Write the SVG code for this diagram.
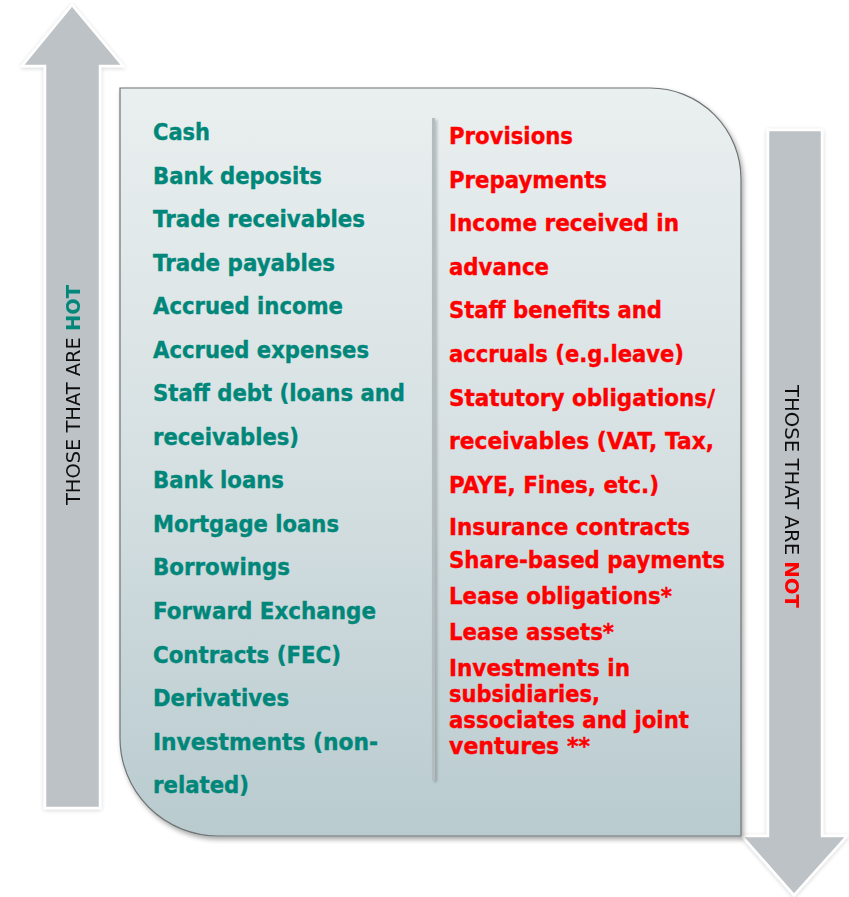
<svg xmlns="http://www.w3.org/2000/svg" width="849" height="897" viewBox="0 0 849 897">
  <defs>
    <linearGradient id="panelFill" x1="0" y1="0" x2="0" y2="1">
      <stop offset="0" stop-color="#eaefef"/>
      <stop offset="0.5" stop-color="#d6e0e2"/>
      <stop offset="1" stop-color="#b9cbcf"/>
    </linearGradient>
    <filter id="softShadow" x="-10%" y="-10%" width="120%" height="120%">
      <feGaussianBlur in="SourceAlpha" stdDeviation="2.5"/>
      <feOffset dx="2" dy="3" result="blur"/>
      <feComponentTransfer><feFuncA type="linear" slope="0.35"/></feComponentTransfer>
      <feMerge><feMergeNode/><feMergeNode in="SourceGraphic"/></feMerge>
    </filter>
    <filter id="ruleShadow" x="-300%" y="-2%" width="700%" height="104%">
      <feGaussianBlur in="SourceAlpha" stdDeviation="1.5"/>
      <feOffset dx="2" dy="2"/>
      <feComponentTransfer><feFuncA type="linear" slope="0.25"/></feComponentTransfer>
      <feMerge><feMergeNode/><feMergeNode in="SourceGraphic"/></feMerge>
    </filter>
    <filter id="arrowShadow" x="-20%" y="-5%" width="140%" height="110%">
      <feGaussianBlur in="SourceAlpha" stdDeviation="2"/>
      <feOffset dx="0" dy="1"/>
      <feComponentTransfer><feFuncA type="linear" slope="0.18"/></feComponentTransfer>
      <feMerge><feMergeNode/><feMergeNode in="SourceGraphic"/></feMerge>
    </filter>
  </defs>
  <style>
    .arrow { fill: #bcc2c5; stroke: #ffffff; stroke-width: 2.5; stroke-linejoin: miter; }
    .hot { font-family: "DejaVu Sans", "Liberation Sans", sans-serif; font-weight: bold; font-size: 23px; fill: #00877a; stroke: #00877a; stroke-width: 0.4; }
    .not { font-family: "DejaVu Sans", "Liberation Sans", sans-serif; font-weight: bold; font-size: 23px; fill: #ff0000; stroke: #ff0000; stroke-width: 0.4; }
    .side { font-family: "DejaVu Sans", "Liberation Sans", sans-serif; font-size: 20px; fill: #111111; }
  </style>

  <!-- upward arrow on the left -->
  <g id="arrow-hot" filter="url(#arrowShadow)">
    <path class="arrow" d="M72,5 L123,66 L100,66 L100,808 L45,808 L45,66 L22,66 Z"/>
    <text class="side" transform="translate(80,505) rotate(-90)" textLength="220" lengthAdjust="spacingAndGlyphs">THOSE THAT ARE <tspan font-weight="bold" fill="#00877a">HOT</tspan></text>
  </g>

  <!-- downward arrow on the right -->
  <g id="arrow-not" filter="url(#arrowShadow)">
    <path class="arrow" d="M768,130 L822,130 L822,836 L847,836 L794,895 L742,836 L768,836 Z"/>
    <text class="side" transform="translate(785,385) rotate(90)" textLength="223" lengthAdjust="spacingAndGlyphs">THOSE THAT ARE <tspan font-weight="bold" fill="#ff0000">NOT</tspan></text>
  </g>

  <!-- central panel with its column rule -->
  <g id="panel">
    <path d="M120,88 L650,88 A91,91 0 0 1 741,179 L741,836 L218,836 A98,98 0 0 1 120,738 Z" fill="url(#panelFill)" stroke="#6f7475" stroke-width="1.2" filter="url(#softShadow)"/>
    <rect x="432" y="118" width="3" height="662" fill="#b3bcbe" filter="url(#ruleShadow)"/>
  </g>

  <!-- items that are hot -->
  <g id="list-hot">
    <text class="hot" x="153" y="140" textLength="57" lengthAdjust="spacingAndGlyphs">Cash</text>
    <text class="hot" x="153" y="184" textLength="169" lengthAdjust="spacingAndGlyphs">Bank deposits</text>
    <text class="hot" x="153" y="227" textLength="212" lengthAdjust="spacingAndGlyphs">Trade receivables</text>
    <text class="hot" x="153" y="271" textLength="182" lengthAdjust="spacingAndGlyphs">Trade payables</text>
    <text class="hot" x="153" y="314" textLength="190" lengthAdjust="spacingAndGlyphs">Accrued income</text>
    <text class="hot" x="153" y="358" textLength="216" lengthAdjust="spacingAndGlyphs">Accrued expenses</text>
    <text class="hot" x="153" y="401" textLength="252" lengthAdjust="spacingAndGlyphs">Staff debt (loans and</text>
    <text class="hot" x="153" y="445" textLength="146" lengthAdjust="spacingAndGlyphs">receivables)</text>
    <text class="hot" x="153" y="488" textLength="131" lengthAdjust="spacingAndGlyphs">Bank loans</text>
    <text class="hot" x="153" y="532" textLength="186" lengthAdjust="spacingAndGlyphs">Mortgage loans</text>
    <text class="hot" x="153" y="575" textLength="137" lengthAdjust="spacingAndGlyphs">Borrowings</text>
    <text class="hot" x="153" y="619" textLength="223" lengthAdjust="spacingAndGlyphs">Forward Exchange</text>
    <text class="hot" x="153" y="663" textLength="188" lengthAdjust="spacingAndGlyphs">Contracts (FEC)</text>
    <text class="hot" x="153" y="706" textLength="136" lengthAdjust="spacingAndGlyphs">Derivatives</text>
    <text class="hot" x="153" y="750" textLength="225" lengthAdjust="spacingAndGlyphs">Investments (non-</text>
    <text class="hot" x="153" y="793" textLength="96" lengthAdjust="spacingAndGlyphs">related)</text>
  </g>

  <!-- items that are not -->
  <g id="list-not">
    <text class="not" x="449" y="144" textLength="124" lengthAdjust="spacingAndGlyphs">Provisions</text>
    <text class="not" x="449" y="188" textLength="158" lengthAdjust="spacingAndGlyphs">Prepayments</text>
    <text class="not" x="449" y="231" textLength="230" lengthAdjust="spacingAndGlyphs">Income received in</text>
    <text class="not" x="449" y="275" textLength="100" lengthAdjust="spacingAndGlyphs">advance</text>
    <text class="not" x="449" y="318" textLength="213" lengthAdjust="spacingAndGlyphs">Staff benefits and</text>
    <text class="not" x="449" y="362" textLength="235" lengthAdjust="spacingAndGlyphs">accruals (e.g.leave)</text>
    <text class="not" x="449" y="406" textLength="266" lengthAdjust="spacingAndGlyphs">Statutory obligations/</text>
    <text class="not" x="449" y="449" textLength="265" lengthAdjust="spacingAndGlyphs">receivables (VAT, Tax,</text>
    <text class="not" x="449" y="493" textLength="210" lengthAdjust="spacingAndGlyphs">PAYE, Fines, etc.)</text>
    <text class="not" x="449" y="535" textLength="241" lengthAdjust="spacingAndGlyphs">Insurance contracts</text>
    <text class="not" x="449" y="568" textLength="276" lengthAdjust="spacingAndGlyphs">Share-based payments</text>
    <text class="not" x="449" y="604" textLength="223" lengthAdjust="spacingAndGlyphs">Lease obligations*</text>
    <text class="not" x="449" y="640" textLength="165" lengthAdjust="spacingAndGlyphs">Lease assets*</text>
    <text class="not" x="449" y="676" textLength="181" lengthAdjust="spacingAndGlyphs">Investments in</text>
    <text class="not" x="449" y="702" textLength="151" lengthAdjust="spacingAndGlyphs">subsidiaries,</text>
    <text class="not" x="449" y="728" textLength="240" lengthAdjust="spacingAndGlyphs">associates and joint</text>
    <text class="not" x="449" y="754" textLength="141" lengthAdjust="spacingAndGlyphs">ventures **</text>
  </g>
</svg>
